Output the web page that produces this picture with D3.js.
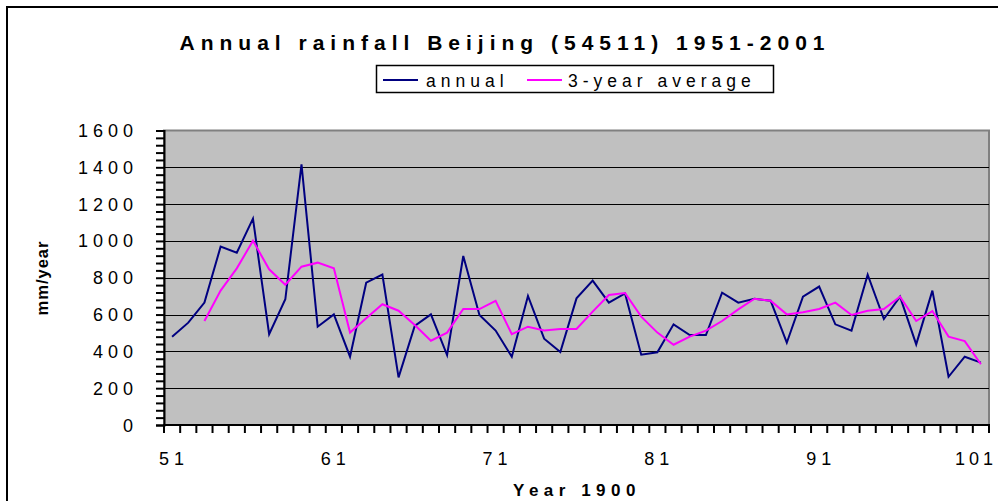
<!DOCTYPE html>
<html>
<head>
<meta charset="utf-8">
<script src="https://cdn.jsdelivr.net/npm/d3@7"></script>
<style>
  html, body { margin: 0; padding: 0; background: #fff; }
  svg { display: block; font-family: "Liberation Sans", Arial, sans-serif; }
</style>
</head>
<body>
<svg id="chart" width="998" height="501"></svg>
<script>
// Years after 1900, 1951..2001
const years = [51,52,53,54,55,56,57,58,59,60,61,62,63,64,65,66,67,68,69,70,
               71,72,73,74,75,76,77,78,79,80,81,82,83,84,85,86,87,88,89,90,
               91,92,93,94,95,96,97,98,99,100,101];

// Annual rainfall, mm/year
const annual = [480,556,665,969,936,1121,493,683,1416,534,
                601,371,773,817,259,538,601,380,918,598,
                513,371,701,469,397,688,784,665,715,382,
                395,547,489,489,719,665,686,675,447,697,
                752,547,513,817,576,697,438,730,262,371,
                339];

// 3-year running mean (first two years have no value)
const average3 = [null,null,565,730,851,1001,846,762,860,882,
                  851,502,580,656,621,543,458,502,630,630,
                  675,493,534,513,522,522,616,706,717,589,
                  502,436,480,513,565,628,686,675,601,612,
                  630,665,598,621,630,697,565,619,480,456,
                  330];

const yTicks = [0,200,400,600,800,1000,1200,1400,1600];
const xLabelYears = [51,61,71,81,91,101];

const svg = d3.select("#chart");
const plot = { left: 164, right: 989, top: 130.5, bottom: 425 };

const x = d3.scaleBand().domain(years).range([plot.left, plot.right]).padding(0);
const y = d3.scaleLinear().domain([0, 1600]).range([plot.bottom, plot.top]);
const cx = d => x(d) + x.bandwidth() / 2;

// outer chart frame
svg.append("rect")
  .attr("x", 7).attr("y", 7).attr("width", 1010).attr("height", 510)
  .attr("fill", "#fff").attr("stroke", "#000").attr("stroke-width", 2);

// plot area
svg.append("rect")
  .attr("x", plot.left).attr("y", plot.top)
  .attr("width", plot.right - plot.left).attr("height", plot.bottom - plot.top)
  .attr("fill", "#c0c0c0").attr("stroke", "#808080").attr("stroke-width", 2);

// horizontal gridlines
svg.append("g")
  .selectAll("line")
  .data(yTicks.filter(v => v > 0 && v < 1600))
  .join("line")
  .attr("x1", plot.left).attr("x2", plot.right)
  .attr("y1", d => Math.round(y(d)) + 0.5).attr("y2", d => Math.round(y(d)) + 0.5)
  .attr("stroke", "#000").attr("stroke-width", 1);

// y axis: minor ticks every 40 mm
const yAxis = d3.axisLeft(y)
  .tickValues(d3.range(0, 1601, 40))
  .tickSize(8)
  .tickFormat("");
const gy = svg.append("g").attr("transform", `translate(${plot.left},0)`).call(yAxis);
gy.select(".domain").attr("stroke", "#000").attr("stroke-width", 2);
gy.selectAll(".tick line").attr("stroke", "#000").attr("stroke-width", 2);

// y tick labels
svg.append("g")
  .selectAll("text")
  .data(yTicks)
  .join("text")
  .attr("x", 138)
  .attr("y", d => y(d) + 6.5)
  .attr("text-anchor", "end")
  .attr("font-size", 18)
  .attr("letter-spacing", 5)
  .attr("fill", "#000")
  .text(d => d);

// x axis with ticks on category boundaries
const boundaries = years.map(d => x(d)).concat([plot.right]);
const gx = svg.append("g");
gx.append("line")
  .attr("x1", plot.left - 1).attr("x2", plot.right + 1)
  .attr("y1", plot.bottom).attr("y2", plot.bottom)
  .attr("stroke", "#000").attr("stroke-width", 2);
gx.selectAll("line.tk")
  .data(boundaries)
  .join("line")
  .attr("class", "tk")
  .attr("x1", d => d).attr("x2", d => d)
  .attr("y1", plot.bottom).attr("y2", plot.bottom + 8)
  .attr("stroke", "#000").attr("stroke-width", 2);

// x tick labels (the last one is kept inside the frame edge)
svg.append("g")
  .selectAll("text")
  .data(xLabelYears)
  .join("text")
  .attr("x", d => d === 101 ? 997 : cx(d) + 2)
  .attr("y", 465)
  .attr("text-anchor", d => d === 101 ? "end" : "middle")
  .attr("font-size", 18)
  .attr("letter-spacing", d => d === 101 ? 4 : 5)
  .attr("fill", "#000")
  .text(d => d);

// series lines
const line = d3.line()
  .defined(d => d[1] !== null)
  .x(d => cx(d[0]))
  .y(d => y(d[1]));

svg.append("path")
  .datum(years.map((yr, i) => [yr, annual[i]]))
  .attr("d", line)
  .attr("fill", "none").attr("stroke", "#000080").attr("stroke-width", 2)
  .attr("stroke-linejoin", "miter");

svg.append("path")
  .datum(years.map((yr, i) => [yr, average3[i]]))
  .attr("d", line)
  .attr("fill", "none").attr("stroke", "#ff00ff").attr("stroke-width", 2)
  .attr("stroke-linejoin", "miter");

// title
svg.append("text")
  .attr("x", 505).attr("y", 50)
  .attr("text-anchor", "middle")
  .attr("font-size", 21).attr("font-weight", "bold")
  .attr("letter-spacing", 6)
  .text("Annual rainfall Beijing (54511) 1951-2001");

// legend
const lg = svg.append("g");
lg.append("rect")
  .attr("x", 376.5).attr("y", 65.5).attr("width", 397).attr("height", 27)
  .attr("fill", "#fff").attr("stroke", "#000").attr("stroke-width", 1.5);
const legendItems = [
  { name: "annual", color: "#000080", x0: 383, tx: 426 },
  { name: "3-year average", color: "#ff00ff", x0: 527, tx: 568 }
];
legendItems.forEach(it => {
  lg.append("line")
    .attr("x1", it.x0).attr("x2", it.x0 + 35)
    .attr("y1", 80).attr("y2", 80)
    .attr("stroke", it.color).attr("stroke-width", 2);
  lg.append("text")
    .attr("x", it.tx).attr("y", 86.5)
    .attr("font-size", 17.5).attr("letter-spacing", 5)
    .text(it.name);
});

// axis titles
svg.append("text")
  .attr("x", 577).attr("y", 496)
  .attr("text-anchor", "middle")
  .attr("font-size", 17).attr("font-weight", "bold")
  .attr("letter-spacing", 5.5)
  .text("Year 1900");

svg.append("text")
  .attr("transform", "translate(48,278) rotate(-90)")
  .attr("text-anchor", "middle")
  .attr("font-size", 16.5).attr("font-weight", "bold")
  .attr("letter-spacing", 1)
  .text("mm/year");
</script>
</body>
</html>
